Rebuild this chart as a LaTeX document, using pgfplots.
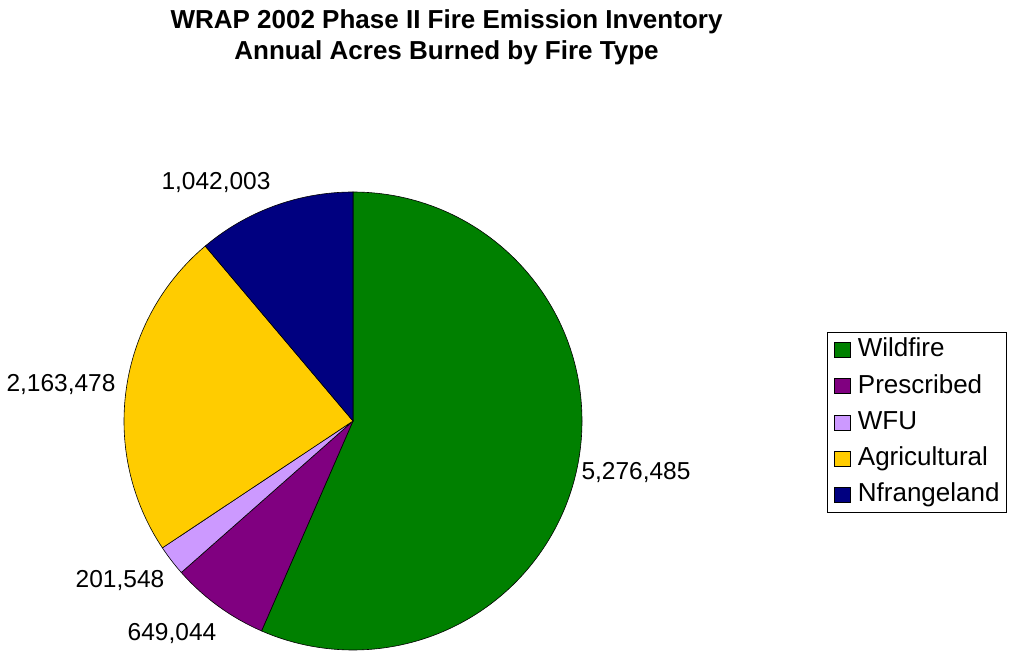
\documentclass[border=0pt]{standalone}
\usepackage{pgfplots}
\usepackage{pgfplotstable}
\pgfplotsset{compat=1.18}
\usepackage{fontspec}
\setmainfont{Liberation Sans}
\definecolor{wild}{HTML}{008000}
\definecolor{presc}{HTML}{800080}
\definecolor{wfu}{HTML}{CC99FF}
\definecolor{agri}{HTML}{FFCC00}
\definecolor{nfr}{HTML}{000080}
% values in thousands of acres
\pgfplotstableread{
type value
Wildfire 5276.485
Prescribed 649.044
WFU 201.548
Agricultural 2163.478
Nfrangeland 1042.003
}\piedata
\pgfplotsset{
  sq/.style={legend image code/.code={\draw[##1, draw=black, line width=0.6bp] (0bp,-7.5bp) rectangle (16bp,7.5bp);}},
}
\begin{document}
\begin{tikzpicture}
\pgfplotstablegetelem{0}{value}\of\piedata \let\vA\pgfplotsretval
\pgfplotstablegetelem{1}{value}\of\piedata \let\vB\pgfplotsretval
\pgfplotstablegetelem{2}{value}\of\piedata \let\vC\pgfplotsretval
\pgfplotstablegetelem{3}{value}\of\piedata \let\vD\pgfplotsretval
\pgfplotstablegetelem{4}{value}\of\piedata \let\vE\pgfplotsretval
\pgfmathsetmacro\T{\vA+\vB+\vC+\vD+\vE}
\pgfmathsetmacro\aA{90-\vA/\T*360}
\pgfmathsetmacro\aB{\aA-\vB/\T*360}
\pgfmathsetmacro\aC{\aB-\vC/\T*360}
\pgfmathsetmacro\aD{\aC-\vD/\T*360}
\def\aE{-270}
\def\R{229bp}
\begin{axis}[
  scale only axis, width=1015bp, height=650bp,
  xmin=0, xmax=1015, ymin=0, ymax=650,
  hide axis, clip=false,
  legend style={at={(axis cs:827,318)}, anchor=north west, draw=black, line width=0.6bp,
    font=\fontsize{26bp}{30bp}\selectfont, inner xsep=7bp, inner ysep=5.5bp,
    row sep=12.25bp, cells={anchor=west},
    nodes={inner xsep=0bp, inner ysep=0bp, text height=19bp, text depth=5bp},
    /tikz/column 1/.style={column sep=7bp}},
  legend cell align=left,
]
\path (axis cs:0,0) rectangle (axis cs:1015,650);
\addlegendimage{sq, fill=wild}\addlegendentry{Wildfire}
\addlegendimage{sq, fill=presc}\addlegendentry{Prescribed}
\addlegendimage{sq, fill=wfu}\addlegendentry{WFU}
\addlegendimage{sq, fill=agri}\addlegendentry{Agricultural}
\addlegendimage{sq, fill=nfr}\addlegendentry{Nfrangeland}
\filldraw[fill=wild, draw=black, line width=0.6bp] (axis cs:353,229) -- ++(90:\R) arc[start angle=90, end angle=\aA, radius=\R] -- cycle;
\filldraw[fill=presc, draw=black, line width=0.6bp] (axis cs:353,229) -- ++(\aA:\R) arc[start angle=\aA, end angle=\aB, radius=\R] -- cycle;
\filldraw[fill=wfu, draw=black, line width=0.6bp] (axis cs:353,229) -- ++(\aB:\R) arc[start angle=\aB, end angle=\aC, radius=\R] -- cycle;
\filldraw[fill=agri, draw=black, line width=0.6bp] (axis cs:353,229) -- ++(\aC:\R) arc[start angle=\aC, end angle=\aD, radius=\R] -- cycle;
\filldraw[fill=nfr, draw=black, line width=0.6bp] (axis cs:353,229) -- ++(\aD:\R) arc[start angle=\aD, end angle=\aE, radius=\R] -- cycle;
\begin{scope}[every node/.style={font=\fontsize{24.5bp}{28bp}\selectfont, inner sep=0pt}]
\node at (axis cs:636,177) {5,276,485};
\node at (axis cs:172,16) {649,044};
\node at (axis cs:120,69) {201,548};
\node at (axis cs:61,265) {2,163,478};
\node at (axis cs:216,467) {1,042,003};
\end{scope}
\begin{scope}[every node/.style={font=\bfseries\fontsize{26bp}{30bp}\selectfont, inner sep=0pt, anchor=base}]
\node at (axis cs:446.5,621) {WRAP 2002 Phase II Fire Emission Inventory};
\node at (axis cs:446.5,590) {Annual Acres Burned by Fire Type};
\end{scope}
\end{axis}
\end{tikzpicture}
\end{document}
